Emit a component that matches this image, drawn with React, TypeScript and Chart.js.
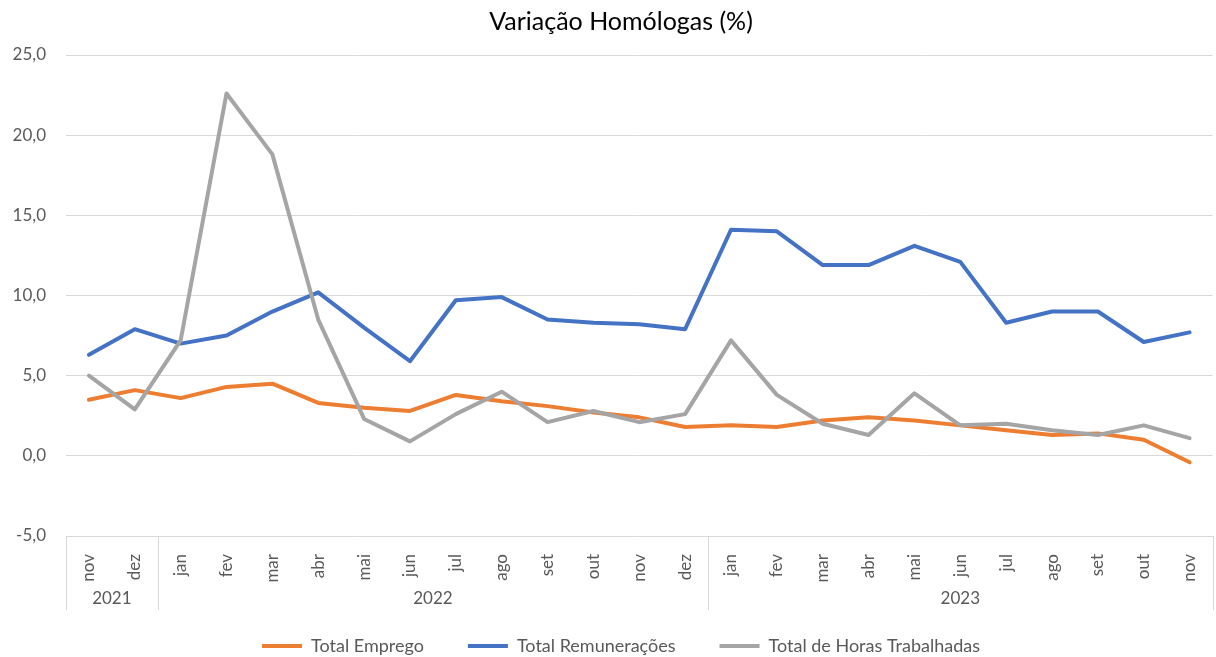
import React, { useEffect, useRef } from "react";
import { Chart, registerables } from "chart.js";

Chart.register(...registerables);

const months = ["nov", "dez", "jan", "fev", "mar", "abr", "mai", "jun", "jul", "ago", "set", "out", "nov", "dez", "jan", "fev", "mar", "abr", "mai", "jun", "jul", "ago", "set", "out", "nov"];
const yearLabels = ["2021", "2022", "2023"];
const yearSpans = [2, 12, 11];

const totalEmprego = [3.5, 4.1, 3.6, 4.3, 4.5, 3.3, 3.0, 2.8, 3.8, 3.4, 3.1, 2.7, 2.4, 1.8, 1.9, 1.8, 2.2, 2.4, 2.2, 1.9, 1.6, 1.3, 1.4, 1.0, -0.4];
const totalRemuneracoes = [6.3, 7.9, 7.0, 7.5, 9.0, 10.2, 8.0, 5.9, 9.7, 9.9, 8.5, 8.3, 8.2, 7.9, 14.1, 14.0, 11.9, 11.9, 13.1, 12.1, 8.3, 9.0, 9.0, 7.1, 7.7];
const totalHoras = [5.0, 2.9, 7.2, 22.6, 18.8, 8.5, 2.3, 0.9, 2.6, 4.0, 2.1, 2.8, 2.1, 2.6, 7.2, 3.8, 2.0, 1.3, 3.9, 1.9, 2.0, 1.6, 1.3, 1.9, 1.1];

const seriesNames = ["Total Emprego", "Total Remunerações", "Total de Horas Trabalhadas"];
const seriesColors = ["#ED7D31", "#4472C4", "#A5A5A5"];

const FONT = "Lato, 'Noto Sans', sans-serif";
const GRID = "#d9d9d9";
const TXT = "#595959";

const yearRowPlugin = {
  id: "yearRow",
  afterDraw(chart: any) {
    const ctx = chart.ctx;
    const xs = chart.scales.x;
    const top = chart.chartArea.bottom;
    const lineBottom = top + 74;
    ctx.save();
    ctx.strokeStyle = GRID;
    ctx.lineWidth = 1;
    ctx.fillStyle = TXT;
    ctx.font = `17px ${FONT}`;
    ctx.textAlign = "center";
    ctx.textBaseline = "middle";
    let idx = 0;
    const half = (xs.getPixelForValue(1) - xs.getPixelForValue(0)) / 2;
    yearSpans.forEach((span, g) => {
      const startX = xs.getPixelForValue(idx) - half;
      const endX = xs.getPixelForValue(idx + span - 1) + half;
      ctx.beginPath();
      ctx.moveTo(Math.round(startX) + 0.5, top);
      ctx.lineTo(Math.round(startX) + 0.5, lineBottom);
      ctx.stroke();
      if (g === yearSpans.length - 1) {
        ctx.beginPath();
        ctx.moveTo(Math.round(endX) + 0.5, top);
        ctx.lineTo(Math.round(endX) + 0.5, lineBottom);
        ctx.stroke();
      }
      ctx.fillText(yearLabels[g], (startX + endX) / 2, top + 63);
      idx += span;
    });
    ctx.restore();
  },
};

// nudge the full-width title and legend boxes so they sit centred like the original
const shiftBoxesPlugin = {
  id: "shiftBoxes",
  afterLayout(chart: any) {
    [chart.titleBlock, chart.legend].forEach((b: any) => {
      if (b) {
        b.left += 11;
        b.right += 11;
      }
    });
  },
};

export default function App() {
  const ref = useRef<HTMLCanvasElement>(null);
  useEffect(() => {
    document.body.style.margin = "0";
    const seriesData = [totalEmprego, totalRemuneracoes, totalHoras];
    const chart = new Chart(ref.current as HTMLCanvasElement, {
      type: "line",
      data: {
        labels: months,
        datasets: seriesData.map((d, i) => ({
          label: seriesNames[i],
          data: d,
          borderColor: seriesColors[i],
          backgroundColor: seriesColors[i],
          borderWidth: 4,
          pointRadius: 0,
          pointHoverRadius: 0,
          tension: 0,
          borderJoinStyle: "round" as const,
          borderCapStyle: "round" as const,
          order: 3 - i,
        })),
      },
      options: {
        animation: false,
        responsive: false,
        devicePixelRatio: 1,
        layout: { padding: { left: 0, right: 0, top: 0, bottom: 0 } },
        plugins: {
          title: {
            display: true,
            text: "Variação Homólogas (%)",
            color: "#000000",
            font: { family: FONT, size: 25, weight: "normal", lineHeight: 1.2 },
            padding: { top: 7, bottom: 18 },
          },
          legend: {
            display: true,
            position: "bottom",
            labels: {
              usePointStyle: true,
              pointStyle: "line",
              pointStyleWidth: 40,
              padding: 44,
              color: TXT,
              font: { family: FONT, size: 18 },
              sort: (a: any, b: any) => a.datasetIndex - b.datasetIndex,
            },
          },
          tooltip: { enabled: false },
        },
        scales: {
          x: {
            type: "category",
            offset: true,
            grid: { display: false, offset: true },
            border: { display: true, color: GRID },
            ticks: {
              color: TXT,
              font: { family: FONT, size: 17 },
              minRotation: 90,
              maxRotation: 90,
              padding: 10,
              autoSkip: false,
            },
            afterFit: (s: any) => {
              s.height = 57;
            },
          },
          y: {
            min: -5,
            max: 25,
            grid: { color: GRID, lineWidth: 1, drawTicks: false },
            border: { display: false },
            ticks: {
              stepSize: 5,
              color: TXT,
              font: { family: FONT, size: 17 },
              padding: 20,
              callback: (v: any) => Number(v).toFixed(1).replace(".", ","),
            },
            afterFit: (s: any) => {
              s.width = 66;
            },
          },
        },
      },
      plugins: [yearRowPlugin, shiftBoxesPlugin],
    });
    return () => chart.destroy();
  }, []);
  return (
    <div style={{ position: "absolute", left: 0, top: 0, width: 1216, height: 657, overflow: "hidden", background: "#fff" }}>
      <canvas ref={ref} width={1220} height={665} />
    </div>
  );
}
